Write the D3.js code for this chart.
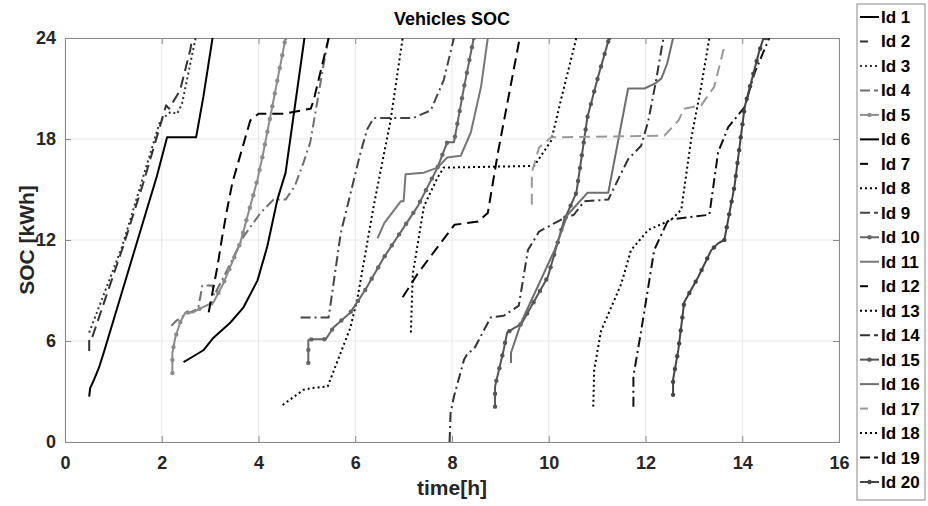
<!DOCTYPE html>
<html>
<head>
<meta charset="utf-8">
<script src="https://cdn.jsdelivr.net/npm/d3@7"></script>
<style>
  body { margin: 0; background: #fff; }
  svg { display: block; font-family: "Liberation Sans", Arial, sans-serif; font-weight: bold; }
</style>
</head>
<body>
<div class="content"></div>
<script>
// time [h], SOC [kWh] pairs, one array per vehicle
const id1 = [[0.5,2.7],[0.52,3.2],[0.6,3.7],[0.7,4.4],[0.8,5.3],[1.9,15.8],[2.11,18.1],[2.71,18.1],[2.86,20.5],[3.05,24]]
const id2 = [[0.5,5.4],[0.5,6.2],[0.56,6.2],[1.2,11.6],[1.62,15.4],[2.09,20.0],[2.15,19.8],[2.38,20.9],[2.59,23.3],[2.63,24]]
const id3 = [[0.5,6.5],[0.62,7.4],[1.18,11.6],[1.6,15.6],[1.97,19.1],[2.18,19.6],[2.32,19.5],[2.42,20.1],[2.52,21.5],[2.7,24]]
const id4 = [[2.2,6.9],[2.3,7.2],[2.5,7.6],[2.75,7.9],[2.84,9.3],[3.05,9.3],[3.08,8.7],[3.35,10.2],[3.69,12.2],[4.04,13.6],[4.31,14.4],[4.56,14.4],[4.75,15.2],[4.93,16.6],[5.07,17.8],[5.22,20.3],[5.35,22.5],[5.45,24]]
const id5 = [[2.22,4.1],[2.22,5.3],[2.28,6.2],[2.38,7.1],[2.49,7.7],[2.65,7.7],[2.84,8.0],[3.07,8.3],[3.27,9.4],[3.62,11.8],[3.98,15.6],[4.1,17.2],[4.56,24]]
const id6 = [[2.45,4.75],[2.63,5.05],[2.86,5.45],[3.07,6.2],[3.42,7.1],[3.69,8.0],[3.98,9.6],[4.18,11.6],[4.39,14.4],[4.56,16.0],[4.95,24]]
const id7 = [[2.97,7.7],[3.15,10.4],[3.25,12.2],[3.35,13.8],[3.46,15.4],[3.83,19.1],[4.0,19.5],[4.52,19.5],[5.08,19.8],[5.14,20.3],[5.45,24]]
const id8 = [[4.5,2.2],[4.93,3.1],[5.1,3.2],[5.43,3.3],[5.9,6.8],[6.05,8.6],[6.38,14],[6.73,19.1],[6.98,24]]
const id9 = [[4.87,7.4],[5.45,7.4],[5.7,12.4],[6.11,17.2],[6.25,18.6],[6.38,19.25],[7.2,19.25],[7.56,19.7],[7.83,21.5],[8.04,24]]
const id10 = [[5.03,4.7],[5.03,6.06],[5.1,6.1],[5.39,6.1],[5.55,6.8],[5.9,7.7],[6.2,9.0],[6.6,11],[7.29,14],[7.7,16.3],[7.9,17.8],[8.04,17.8],[8.25,21.1],[8.45,24]]
const id11 = [[6.46,12.1],[6.6,13.0],[6.94,14.3],[7.0,14.3],[7.04,15.9],[7.42,16.0],[7.7,16.3],[7.9,16.9],[8.18,17.0],[8.39,18.4],[8.6,21.1],[8.74,24]]
const id12 = [[6.98,8.6],[7.29,10.0],[7.97,12.6],[8.05,12.9],[8.54,13.1],[8.74,13.6],[8.95,17.2],[9.4,24]]
const id13 = [[7.15,6.5],[7.19,10.0],[7.42,14.0],[7.7,15.7],[7.83,16.3],[9.7,16.4],[10.05,17.9],[10.25,20.3],[10.57,24]]
const id14 = [[7.95,0],[7.97,1.7],[8.04,2.7],[8.25,4.9],[8.33,5.3],[8.45,5.5],[8.8,7.4],[9.07,7.5],[9.38,8.1],[9.57,11.4],[9.8,12.5],[10.25,13.2],[10.52,13.5],[10.73,14.3],[11.23,14.4],[11.64,16.8],[11.91,17.6],[12.06,19.1],[12.22,21.5],[12.37,24]]
const id15 = [[8.89,2.1],[8.89,3.3],[9.07,5.5],[9.14,6.5],[9.3,6.8],[9.43,7.0],[9.98,9.8],[10.32,13.2],[10.57,14.8],[10.8,19.3],[11.02,21.7],[11.25,24]]
const id16 = [[9.22,4.7],[9.22,5.3],[9.43,7.1],[10.12,11.4],[10.39,13.5],[10.8,14.8],[11.23,14.8],[11.64,21.0],[11.98,21.0],[12.2,21.3],[12.33,21.6],[12.45,22.5],[12.57,24]]
const id17 = [[9.65,14.1],[9.65,16.0],[9.8,17.5],[10.05,18.1],[12.39,18.2],[12.68,19.1],[12.8,19.8],[13.15,20.0],[13.42,21.1],[13.63,23.5]]
const id18 = [[10.92,2.1],[10.94,4.3],[11.08,6.6],[11.5,9.4],[11.7,11.4],[12.06,12.6],[12.53,13.2],[12.74,13.8],[12.95,18.1],[13.15,21.1],[13.32,24]]
const id19 = [[11.75,2.1],[11.75,3.9],[11.91,6.6],[12.18,11.4],[12.47,13.2],[13.32,13.5],[13.5,17.2],[13.71,18.7],[14.05,19.9],[14.25,21.9],[14.56,24]]
const id20 = [[12.57,2.8],[12.57,3.7],[12.68,5.5],[12.8,8.3],[13.09,9.8],[13.36,11.4],[13.5,11.8],[13.63,12.0],[13.84,15.2],[14.05,19.9],[14.34,23.1],[14.44,24],[14.5,24]]

const names = ['Id 1','Id 2','Id 3','Id 4','Id 5','Id 6','Id 7','Id 8','Id 9','Id 10',
  'Id 11','Id 12','Id 13','Id 14','Id 15','Id 16','Id 17','Id 18','Id 19','Id 20']
const series = [id1,id2,id3,id4,id5,id6,id7,id8,id9,id10,id11,id12,id13,id14,id15,id16,id17,id18,id19,id20]
const xTicks = [0,2,4,6,8,10,12,14,16]
const yTicks = [0,6,12,18,24]

// line styles cycle: solid, dashed, dotted, dash-dot, solid with dots
const styles = ['solid','dash','dot','dashdot','marker']
const dashes = {solid: null, dash: '11,6', dot: '2,3', dashdot: '10,4,2,4', marker: null}
const legendDashes = {solid: null, dash: '8,11', dot: '2,3', dashdot: '10,4,4,10', marker: null}
const colors = ['#000000','#333333','#333333','#6e6e6e','#8c8c8c',
  '#000000','#000000','#000000','#444444','#666666',
  '#777777','#000000','#000000','#333333','#555555',
  '#6e6e6e','#999999','#000000','#111111','#444444']

const W = 928, H = 506
const mLeft = 65, mRight = 839, mTop = 38, mBottom = 442

const x = d3.scaleLinear().domain([0,16]).range([mLeft, mRight])
const y = d3.scaleLinear().domain([0,24]).range([mBottom, mTop])

const svg = d3.select('div.content').append('svg')
    .attr('width', W)
    .attr('height', H)

svg.append('defs').append('clipPath').attr('id','plot')
    .append('rect')
    .attr('x', mLeft).attr('y', mTop)
    .attr('width', mRight - mLeft).attr('height', mBottom - mTop)

// grid
svg.append('g').selectAll('line').data(xTicks).join('line')
    .attr('x1', d => x(d)).attr('x2', d => x(d))
    .attr('y1', mTop).attr('y2', mBottom)
    .attr('stroke', '#e8e8e8').attr('stroke-width', 1)
svg.append('g').selectAll('line').data(yTicks).join('line')
    .attr('x1', mLeft).attr('x2', mRight)
    .attr('y1', d => y(d)).attr('y2', d => y(d))
    .attr('stroke', '#e8e8e8').attr('stroke-width', 1)

// axes (MATLAB style: ticks inside, box on)
const axisColor = '#8a8a8a'
svg.append('g').attr('transform', `translate(0,${mBottom})`)
    .call(d3.axisBottom(x).tickValues(xTicks).tickSize(-6).tickPadding(14).tickFormat(d3.format('d')))
svg.append('g').attr('transform', `translate(${mLeft},0)`)
    .call(d3.axisLeft(y).tickValues(yTicks).tickSize(-6).tickPadding(9).tickFormat(d3.format('d')))
svg.append('g').attr('transform', `translate(0,${mTop})`)
    .call(d3.axisTop(x).tickValues(xTicks).tickSize(-6).tickFormat(''))
svg.append('g').attr('transform', `translate(${mRight},0)`)
    .call(d3.axisRight(y).tickValues(yTicks).tickSize(-6).tickFormat(''))
svg.selectAll('.domain, .tick line').attr('stroke', axisColor)
svg.selectAll('.tick text')
    .attr('fill', '#262626')
    .style('font-size', '18px')
    .style('font-weight', 'bold')
    .style('font-family', '"Liberation Sans", Arial, sans-serif')

// lines
const line = d3.line().x(d => x(d[0])).y(d => y(d[1]))
const plot = svg.append('g').attr('clip-path', 'url(#plot)')

series.forEach((pts, i) => {
  const st = styles[i % 5]
  const p = plot.append('path')
      .datum(pts)
      .attr('d', line)
      .attr('fill', 'none')
      .attr('stroke', colors[i])
      .attr('stroke-width', 2)
      .attr('stroke-linejoin', 'round')
      .attr('stroke-dasharray', dashes[st])
  if (st === 'marker') {
    const node = p.node()
    const len = node.getTotalLength()
    const marks = d3.range(0, len, 13).concat([len]).map(l => node.getPointAtLength(l))
    plot.append('g').selectAll('circle').data(marks).join('circle')
        .attr('cx', d => d.x).attr('cy', d => d.y)
        .attr('r', 2.2)
        .attr('fill', colors[i])
  }
})

// labels
svg.append('text')
    .attr('x', (mLeft + mRight) / 2).attr('y', 25)
    .attr('text-anchor', 'middle')
    .style('font-size', '18px')
    .attr('fill', '#000')
    .text('Vehicles SOC')
svg.append('text')
    .attr('x', (mLeft + mRight) / 2).attr('y', 495)
    .attr('text-anchor', 'middle')
    .style('font-size', '21px')
    .attr('fill', '#262626')
    .text('time[h]')
svg.append('text')
    .attr('transform', `translate(34,${(mTop + mBottom) / 2}) rotate(-90)`)
    .attr('text-anchor', 'middle')
    .style('font-size', '21px')
    .attr('fill', '#262626')
    .text('SOC [kWh]')

// legend
const lg = svg.append('g')
lg.append('rect')
    .attr('x', 857).attr('y', 4)
    .attr('width', 68).attr('height', 496)
    .attr('fill', '#fff')
    .attr('stroke', '#8a8a8a')
const ly = d3.scaleLinear().domain([0, 19]).range([17, 482])
names.forEach((nm, i) => {
  const st = styles[i % 5]
  lg.append('line')
      .attr('x1', 860).attr('x2', 879)
      .attr('y1', ly(i)).attr('y2', ly(i))
      .attr('stroke', colors[i])
      .attr('stroke-width', 2)
      .attr('stroke-dasharray', legendDashes[st])
  if (st === 'marker') {
    lg.append('circle').attr('cx', 869.5).attr('cy', ly(i)).attr('r', 2.2).attr('fill', colors[i])
  }
  lg.append('text')
      .attr('x', 881).attr('y', ly(i) + 6)
      .style('font-size', '17px')
      .attr('fill', '#000')
      .text(nm)
})
</script>
</body>
</html>
